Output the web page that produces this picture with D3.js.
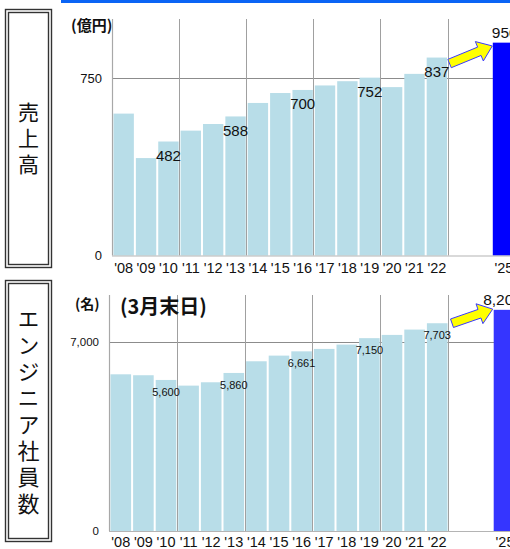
<!DOCTYPE html>
<html><head><meta charset="utf-8">
<script src="https://cdn.jsdelivr.net/npm/d3@7/dist/d3.min.js"></script>
<style>html,body{margin:0;padding:0;background:#fff}svg{display:block}</style>
</head><body>
<script>
// ---------- DATA ----------
const categories = ["08","09","10","11","12","13","14","15","16","17","18","19","20","21","22","23","24","25"];
const actualCategories = ["08","09","10","11","12","13","14","15","16","17","18","19","20","21","22"];
const tickLabels = ["'08","'09","'10","'11","'12","'13","'14","'15","'16","'17","'18","'19","'20","'21","'22","","","'25"];
const salesValues = [600,412,482,528,556,588,645,687,700,719,737,752,712,768,837];
const engineerValues = [5810,5775,5600,5390,5514,5860,6293,6503,6661,6751,6911,7150,7270,7468,7703];
const forecastCategory = "25";
const salesForecastBar = 900;      // bar height as drawn
const salesForecastLabel = "950";
const engineerForecastBar = 8200;
const engineerForecastLabel = "8,200";
const labeledCategories = ["10","13","16","19","22"];
const gridCategories = ["11","14","17","20","23"];
const salesTicks = [0, 750];
const salesTickLabels = ["0", "750"];
const engineerTicks = [0, 7000];
const engineerTickLabels = ["0", "7,000"];

// ---------- DRAW ----------
const W = 510, H = 549;
const svg = d3.select("body").append("svg").attr("width", W).attr("height", H);
const NARROW = "'Liberation Sans Narrow','Arial Narrow','Liberation Sans',Arial,sans-serif";
const SANS = "'Liberation Sans',Arial,sans-serif";
const JP = "'Noto Sans CJK JP','Noto Sans CJK SC',sans-serif";

// top blue strip
svg.append("rect").attr("x", 61).attr("y", 0).attr("width", W - 61).attr("height", 3).attr("fill", "#0a64f5");

function sideBox(y0, y1, text, fs, spacing) {
  const g = svg.append("g");
  g.append("rect").attr("x", 5.5).attr("y", y0 + 0.5).attr("width", 46).attr("height", y1 - y0)
    .attr("fill", "none").attr("stroke", "#333").attr("stroke-width", 1.4);
  g.append("rect").attr("x", 8.5).attr("y", y0 + 3.5).attr("width", 40).attr("height", y1 - y0 - 6)
    .attr("fill", "none").attr("stroke", "#333").attr("stroke-width", 1.4);
  const n = Array.from(text).length;
  const cy = (y0 + y1) / 2 + 0.5;
  g.append("text")
    .attr("x", 28.5)
    .attr("y", cy - (n * spacing) / 2 + (spacing - fs) / 2)
    .style("writing-mode", "vertical-rl")
    .style("letter-spacing", (spacing - fs) + "px")
    .attr("font-family", JP).attr("font-size", fs).attr("fill", "#111")
    .text(text);
}
sideBox(9, 267, "売上高", 21, 26);
sideBox(280, 541, "エンジニア社員数", 22, 26.4);

function panel(cfg) {
  const x = d3.scaleBand().domain(categories).range([cfg.x0, cfg.x0 + categories.length * cfg.step]).padding(0);
  const y = d3.scaleLinear().domain([0, cfg.max]).range([cfg.base, cfg.top]);
  const g = svg.append("g");
  const xEnd = x.range()[1];

  // horizontal gridline(s)
  g.selectAll("line.hg").data(cfg.ticks.filter(t => t > 0)).join("line")
    .attr("x1", cfg.x0).attr("x2", xEnd).attr("y1", d => Math.round(y(d)) + 0.5).attr("y2", d => Math.round(y(d)) + 0.5)
    .attr("stroke", "#8c8c8c").attr("stroke-width", 1);
  // vertical gridlines
  g.selectAll("line.vg").data(gridCategories).join("line")
    .attr("x1", d => Math.round(x(d)) + 0.5).attr("x2", d => Math.round(x(d)) + 0.5)
    .attr("y1", cfg.top).attr("y2", cfg.base)
    .attr("stroke", "#a0a0a0").attr("stroke-width", 1);

  // bars
  g.selectAll("rect.bar").data(actualCategories.map((c, i) => ({c, v: cfg.values[i]}))).join("rect")
    .attr("x", d => x(d.c) + 1.5).attr("width", x.step() - 2)
    .attr("y", d => y(d.v)).attr("height", d => cfg.base - y(d.v))
    .attr("fill", "#b8dde8");

  // forecast bar
  g.append("rect").attr("x", x(forecastCategory) + 0.5).attr("width", x.step() + 4)
    .attr("y", y(cfg.forecastBar)).attr("height", cfg.base - y(cfg.forecastBar))
    .attr("fill", cfg.forecastColor);

  // axes lines
  g.append("line").attr("x1", cfg.x0 + 0.5).attr("x2", cfg.x0 + 0.5).attr("y1", cfg.top).attr("y2", cfg.base)
    .attr("stroke", "#a8a8a8").attr("stroke-width", 1.2);
  g.append("line").attr("x1", cfg.x0).attr("x2", xEnd).attr("y1", cfg.base + 0.5).attr("y2", cfg.base + 0.5)
    .attr("stroke", "#b4b4b4").attr("stroke-width", 1.2);

  // y tick labels
  g.selectAll("text.yt").data(cfg.ticks).join("text")
    .attr("x", cfg.x0 - 10).attr("y", d => y(d)).attr("dominant-baseline", "central")
    .attr("text-anchor", "end").attr("font-family", NARROW).attr("font-size", cfg.yFs).attr("fill", "#111")
    .text((d, i) => cfg.tickLabels[i]);

  // x tick labels
  g.selectAll("text.xt").data(categories).join("text")
    .attr("x", d => x(d) + x.step() / 2 + 0.5).attr("y", cfg.base + cfg.xLabelDy)
    .attr("text-anchor", "middle").attr("font-family", SANS).attr("font-size", 14.5).attr("fill", "#111")
    .text((d, i) => tickLabels[i]);

  // value labels
  g.selectAll("text.vl").data(labeledCategories).join("text")
    .attr("x", d => x(d) + x.step() / 2 + 0.5)
    .attr("y", d => y(cfg.values[actualCategories.indexOf(d)]) + cfg.labelDy)
    .attr("text-anchor", "middle").attr("font-family", NARROW).attr("font-size", cfg.labelFs).attr("fill", "#111")
    .text(d => cfg.format(cfg.values[actualCategories.indexOf(d)]));

  // forecast label
  g.append("text").attr("x", x(forecastCategory) + cfg.fLabelDx).attr("y", y(cfg.forecastBar) - 5)
    .attr("text-anchor", "start").attr("font-family", NARROW).attr("font-size", 15.5).attr("fill", "#111")
    .text(cfg.forecastLabel);

  // arrow
  const tail = [x("23") + cfg.arrowTail[0], y(cfg.values[cfg.values.length - 1]) + cfg.arrowTail[1]];
  const tip = [x(forecastCategory) + cfg.arrowTip[0], y(cfg.forecastBar) + cfg.arrowTip[1]];
  const dx = tip[0] - tail[0], dy = tip[1] - tail[1], L = Math.hypot(dx, dy);
  const ux = dx / L, uy = dy / L, nx = -uy, ny = ux;
  const hl = 14, sh = 4.5, hh = 10.5;
  const bx = tip[0] - ux * hl, by = tip[1] - uy * hl;
  const pts = [
    [tail[0] + nx * sh, tail[1] + ny * sh], [bx + nx * sh, by + ny * sh], [bx + nx * hh, by + ny * hh], tip,
    [bx - nx * hh, by - ny * hh], [bx - nx * sh, by - ny * sh], [tail[0] - nx * sh, tail[1] - ny * sh]
  ];
  g.append("path").attr("d", d3.line()(pts) + "Z").attr("fill", "#ffff00").attr("stroke", "#3a3aff").attr("stroke-width", 1);

  // unit labels
  cfg.units.forEach(u => {
    g.append("text").attr("x", u.x).attr("y", u.y).attr("font-family", JP).attr("font-weight", "bold")
      .attr("font-size", u.fs).attr("fill", "#111").text(u.t);
  });
}

panel({
  x0: 112, step: 22.37, base: 255.5, top: 19, max: 1000,
  values: salesValues, forecastBar: salesForecastBar, forecastLabel: salesForecastLabel, forecastColor: "#0000ff",
  ticks: salesTicks, tickLabels: salesTickLabels, yFs: 13, xLabelDy: 17, labelFs: 15, labelDy: 19.5,
  format: d => String(d), fLabelDx: -0.5,
  arrowTail: [2, 6], arrowTip: [0, 3.3],
  units: [{t: "(億円)", x: 71, y: 31, fs: 15}]
});
panel({
  x0: 109, step: 22.6, base: 531, top: 295, max: 8750,
  values: engineerValues, forecastBar: engineerForecastBar, forecastLabel: engineerForecastLabel, forecastColor: "#3535ff",
  ticks: engineerTicks, tickLabels: engineerTickLabels, yFs: 11.5, xLabelDy: 16, labelFs: 11, labelDy: 16,
  format: d => d3.format(",")(d), fLabelDx: -10,
  arrowTail: [4, 0], arrowTip: [-0.5, -0.7],
  units: [{t: "(名)", x: 75, y: 309, fs: 14}, {t: "(3月末日)", x: 120, y: 314, fs: 20}]
});
</script>
</body></html>
